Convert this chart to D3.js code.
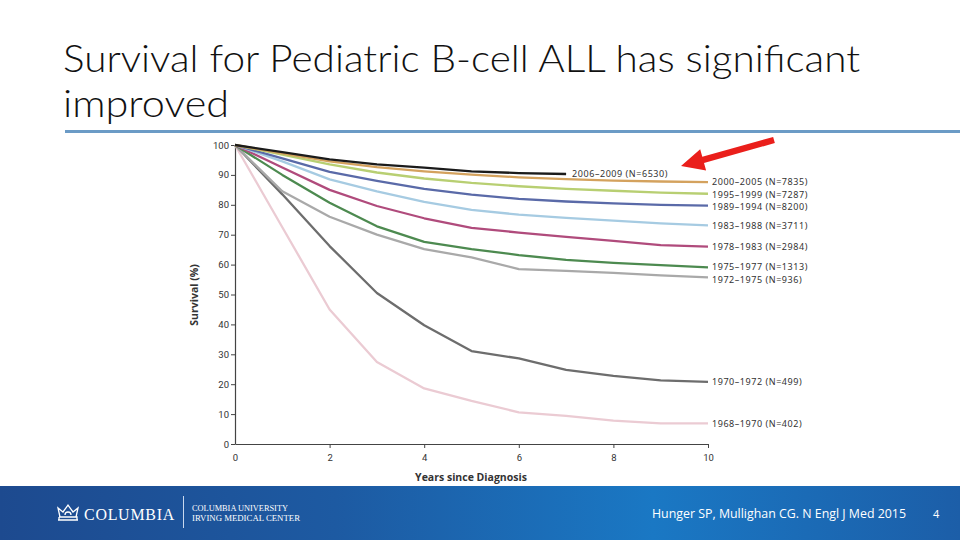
<!DOCTYPE html>
<html><head><meta charset="utf-8">
<script src="https://cdn.jsdelivr.net/npm/d3@7"></script>
<style>body{margin:0;background:#fff;} svg{display:block}</style>
</head><body><svg id="c" width="960" height="540"></svg>
<script>
// ---- data ----
const years = [0,1,2,3,4,5,6,7,8,9,10];
const xTicks = [0,2,4,6,8,10];
const yTicks = [0,10,20,30,40,50,60,70,80,90,100];
const cohorts = ["2006\u20132009","2000\u20132005","1995\u20131999","1989\u20131994","1983\u20131988","1978\u20131983","1975\u20131977","1972\u20131975","1970\u20131972","1968\u20131970"];
const cohortN = [6530,7835,7287,8200,3711,2984,1313,936,499,402];
const s2006 = [100,97.6,95.2,93.5,92.4,91.2,90.6,90.3];
const s2000 = [100,97.2,94.5,92.6,91.2,90.1,89.2,88.6,88.1,87.8,87.6];
const s1995 = [100,96.8,93.5,90.8,88.8,87.3,86.2,85.3,84.7,84.1,83.7];
const s1989 = [100,95.5,91,88,85.3,83.4,82,81.1,80.5,80,79.7];
const s1983 = [100,94.5,88.5,84.5,81,78.3,76.7,75.6,74.7,73.8,73.1];
const s1978 = [100,92.5,85,79.6,75.5,72.3,70.7,69.3,67.9,66.5,66];
const s1975 = [100,90,80.7,72.8,67.6,65.2,63.2,61.6,60.6,59.8,59.1];
const s1972 = [100,84.5,76,70,65.2,62.4,58.5,57.9,57.2,56.4,55.7];
const s1970 = [100,83.5,66.2,50.5,39.7,31.1,28.6,24.8,22.8,21.3,20.8];
const s1968 = [100,72.5,45,27.4,18.6,14.4,10.6,9.4,7.8,6.9,6.9];
const seriesValues = [s2006,s2000,s1995,s1989,s1983,s1978,s1975,s1972,s1970,s1968];
const titleLines = ["Survival for Pediatric B-cell ALL has significant","improved"];
const citation = "Hunger SP, Mullighan CG. N Engl J Med 2015";
const slideNumber = "4";

// ---- styles ----
const colors = ["#1b1b1b","#d4a25e","#b8cf72","#5a6aa8","#a6cbe2","#b04b7c","#4d8a50","#a9a9a9","#6d6d6d","#ebcbd3"];

const svg = d3.select("#c");
const defs = svg.append("defs");
const g1 = defs.append("linearGradient").attr("id","fg").attr("x1","0").attr("x2","1").attr("y1","0").attr("y2","0");
g1.append("stop").attr("offset","0").attr("stop-color","#1d4a8f");
g1.append("stop").attr("offset","0.35").attr("stop-color","#1d5aa2");
g1.append("stop").attr("offset","0.68").attr("stop-color","#1a78c4");
g1.append("stop").attr("offset","1").attr("stop-color","#1c5ea8");

// Title
const tW = [797,166];
titleLines.forEach((t,i)=>{
  svg.append("text").attr("x",63).attr("y",72+i*45)
    .attr("font-family","Lato, 'Open Sans', sans-serif").attr("font-weight",300)
    .attr("font-size",37).attr("fill","#111")
    .attr("textLength",tW[i]).attr("lengthAdjust","spacingAndGlyphs").text(t);
});
svg.append("rect").attr("x",65).attr("y",130).attr("width",895).attr("height",3).attr("fill","#6b9bc6");

// Chart
const x = d3.scaleLinear().domain([0,10]).range([235,708]);
const y = d3.scaleLinear().domain([0,100]).range([444,145]);
const tickFont = "Roboto, 'Liberation Sans', sans-serif";

const yAx = svg.append("g").attr("transform",`translate(${x(0)},0)`)
  .call(d3.axisLeft(y).tickValues(yTicks).tickSize(4).tickSizeOuter(0).tickPadding(2));
const xAx = svg.append("g").attr("transform",`translate(0,${y(0)})`)
  .call(d3.axisBottom(x).tickValues(xTicks).tickSize(4).tickSizeOuter(0).tickPadding(6));
[yAx,xAx].forEach(a=>{
  a.select(".domain").attr("stroke","#444").attr("stroke-width",1.2);
  a.selectAll(".tick line").attr("stroke","#444");
  a.selectAll(".tick text").attr("font-family",tickFont).attr("font-size",9.5).attr("fill","#333");
});
xAx.selectAll(".tick").filter(d=>d===0).select("line").remove();

svg.append("text").attr("x",471).attr("y",481).attr("text-anchor","middle")
  .attr("font-family","'Open Sans', sans-serif").attr("font-weight",700).attr("font-size",10.5)
  .attr("fill","#333").text("Years since Diagnosis");
svg.append("text").attr("transform","translate(198,295) rotate(-90)").attr("text-anchor","middle")
  .attr("font-family","'Open Sans', sans-serif").attr("font-weight",700).attr("font-size",10.5)
  .attr("fill","#333").text("Survival (%)");

const line = d3.line().x((d,i)=>x(years[i])).y(d=>y(d));
for(let k=seriesValues.length-1;k>=0;k--){
  svg.append("path").datum(seriesValues[k]).attr("d",line)
    .attr("fill","none").attr("stroke",colors[k]).attr("stroke-width",2.3)
    .attr("stroke-linejoin","round");
}

// labels with simple dodge
const labFont = "'Noto Sans', 'Open Sans', sans-serif";
let lastY = -1e9;
seriesValues.forEach((vals,k)=>{
  const n = vals.length-1;
  let ly = y(vals[n]);
  let lx = x(years[n]) + 4;
  if(k===0){ lx = x(years[n]) + 6; }
  else { ly = Math.max(ly, lastY + 12.5); lastY = ly; }
  svg.append("text").attr("x",lx).attr("y",ly).attr("dy","0.35em")
    .attr("font-family",labFont).attr("font-size",9).attr("letter-spacing",0.55).attr("fill","#333")
    .text(`${cohorts[k]} (N=${cohortN[k]})`);
});

// Red arrow
(function(){
  const tail=[774,140], tip=[681,166];
  const dx=tip[0]-tail[0], dy=tip[1]-tail[1], L=Math.hypot(dx,dy);
  const ux=dx/L, uy=dy/L, px=-uy, py=ux;
  const sw=3.2, hl=23, hw=11;
  const bx=tip[0]-ux*hl, by=tip[1]-uy*hl;
  const pts=[[tail[0]+px*sw,tail[1]+py*sw],[bx+px*sw,by+py*sw],[bx+px*hw,by+py*hw],tip,
             [bx-px*hw,by-py*hw],[bx-px*sw,by-py*sw],[tail[0]-px*sw,tail[1]-py*sw]];
  svg.append("polygon").attr("points",pts.map(p=>p.join(",")).join(" ")).attr("fill","#ea1f1b");
})();

// Footer
svg.append("rect").attr("x",0).attr("y",486).attr("width",960).attr("height",54).attr("fill","url(#fg)");
const cr = svg.append("g").attr("transform","translate(57,503)").attr("fill","none").attr("stroke","#fff").attr("stroke-width",1.3);
cr.append("path").attr("d","M1,17 H21 M2,14 H20 V17 M2,14 V17 M3,14 L1,5 L6,9 L11,2 L16,9 L21,5 L19,14");
cr.append("path").attr("d","M8,12 a3,3 0 0 1 6,0");
svg.append("text").attr("x",84).attr("y",520).attr("font-family","'Liberation Serif', 'DejaVu Serif', serif")
  .attr("font-size",17).attr("fill","#fff").attr("letter-spacing",0.8).attr("textLength",91).attr("lengthAdjust","spacingAndGlyphs")
  .text("COLUMBIA");
svg.append("rect").attr("x",183).attr("y",496).attr("width",1).attr("height",32).attr("fill","#c8d8ee");
svg.append("text").attr("x",192).attr("y",511).attr("font-family","'Liberation Serif', serif")
  .attr("font-size",8).attr("fill","#fff").attr("textLength",96).attr("lengthAdjust","spacingAndGlyphs").text("COLUMBIA UNIVERSITY");
svg.append("text").attr("x",192).attr("y",521).attr("font-family","'Liberation Serif', serif")
  .attr("font-size",8).attr("fill","#fff").attr("textLength",108).attr("lengthAdjust","spacingAndGlyphs").text("IRVING MEDICAL CENTER");
svg.append("text").attr("x",652).attr("y",518).attr("font-family","'Open Sans', sans-serif")
  .attr("font-size",12.5).attr("fill","#fff").attr("textLength",254).attr("lengthAdjust","spacingAndGlyphs").text(citation);
svg.append("text").attr("x",933).attr("y",518).attr("font-family","'Open Sans', sans-serif")
  .attr("font-size",11).attr("fill","#fff").text(slideNumber);
</script></body></html>
